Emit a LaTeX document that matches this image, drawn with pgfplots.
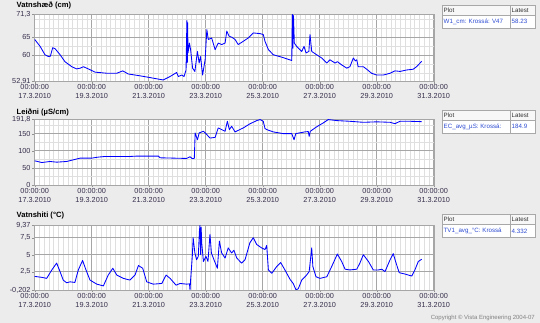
\documentclass[border=0pt]{standalone}
\usepackage{pgfplots}
\pgfplotsset{compat=1.18}
\usepackage{fontspec}
\setmainfont{Liberation Sans}
\definecolor{bgc}{HTML}{ECECEC}
\definecolor{vblue}{RGB}{35,85,235}
\definecolor{lbl}{RGB}{55,45,75}
\definecolor{legtxt}{RGB}{45,75,210}
\definecolor{bord}{HTML}{A8A8A8}
\pgfplotsset{
 vista/.style={
  scale only axis, width=399pt,
  anchor=south west,
  xmin=0, xmax=14, xtick={0,2,...,14},
  xticklabels={{00:00:00\\17.3.2010},{00:00:00\\19.3.2010},{00:00:00\\21.3.2010},{00:00:00\\23.3.2010},{00:00:00\\25.3.2010},{00:00:00\\27.3.2010},{00:00:00\\29.3.2010},{00:00:00\\31.3.2010}},
  minor x tick num=11,
  grid=both,
  major grid style={gray!70, line width=0.5pt},
  minor grid style={gray!25, line width=0.5pt},
  axis line style={gray!70},
  tick align=outside, major tick length=2.5pt, minor tick length=0pt,
  tick style={gray!85},
  xtick pos=left, ytick pos=left,
  axis background/.style={fill=white},
  tick label style={font=\fontsize{7.3}{9}\selectfont, text=lbl},
  xticklabel style={align=center, inner sep=1pt},
  yticklabel style={inner sep=1.5pt},
  no markers,
  every axis plot/.append style={vblue, line width=0.85pt, line join=round, mark=none},
 }
}
\begin{document}
\begin{tikzpicture}[x=1pt,y=1pt]
\fill[bgc] (0,0) rectangle (540,323);
\useasboundingbox (0,0) rectangle (540,323);

% ---------- Panel 1 ----------
\begin{axis}[vista, at={(34.7pt,241.8pt)}, height=66.8pt,
  ymin=52.91, ymax=71.3,
  ytick={52.91,60,65,71.3},
  yticklabels={{52,91},{60},{65},{71,3}},
  minor ytick={55,57.5,62.5,67.5,70}]
\addplot coordinates {
(0,64.4)(0.19,62.5)(0.36,60.2)(0.48,59.7)(0.55,59.8)(0.63,62.1)(0.71,61.9)(0.89,60.2)
(1.06,58.3)(1.30,56.9)(1.47,56.3)(1.60,56.5)(1.71,56.9)(1.88,56.3)(2.12,55.4)(2.53,55.1)
(2.88,55.1)(3.09,55.75)(3.28,54.9)(3.69,54.4)(4.05,53.9)(4.40,53.4)(4.51,53.25)(4.75,54.2)
(4.98,55.3)(5.04,54.2)(5.16,54.6)(5.24,54.2)(5.31,56.0)(5.34,69.6)(5.355,58)(5.365,69)(5.38,60.7)
(5.43,63.4)(5.47,61.6)(5.54,56.5)(5.62,55.6)(5.71,61.1)(5.77,57.9)(5.82,59.7)(5.89,54.6)
(5.98,58.8)(6.04,67.1)(6.09,64.4)(6.21,64.8)(6.33,61.6)(6.44,63.4)(6.56,63.0)(6.68,63.4)
(6.74,66.7)(6.82,65.3)(6.92,65.0)(7.03,64.4)(7.14,63.0)(7.32,63.9)(7.49,64.8)(7.67,66.2)
(7.91,66.0)(8.02,65.75)(8.08,63.9)(8.20,61.6)(8.37,60.2)(8.72,59.4)(9.02,58.6)(9.04,71.3)
(9.06,62)(9.08,71.0)(9.11,63.4)(9.19,62.5)(9.37,61.1)(9.45,62.5)(9.52,60.7)(9.62,61.1)
(9.66,65.75)(9.72,61.1)(9.89,60.2)(10.07,59.3)(10.25,57.9)(10.36,58.8)(10.54,57.9)(10.62,58.3)
(10.77,57.4)(10.95,56.5)(11.06,56.9)(11.18,59.3)(11.25,58.5)(11.30,58.8)(11.35,56.9)(11.53,56.9)
(11.65,56.2)(11.82,55.1)(12.0,54.6)(12.23,54.6)(12.47,55.1)(12.64,55.75)(12.82,55.6)(13.05,56.0)
(13.28,56.2)(13.40,56.9)(13.58,58.4)
};
\end{axis}

% ---------- Panel 2 ----------
\begin{axis}[vista, at={(34.7pt,138pt)}, height=65.7pt,
  ymin=0, ymax=191.8,
  ytick={0,50,100,150,191.8}, yticklabels={{0},{50},{100},{150},{191,8}},
  minor ytick={25,75,125,175}]
\addplot coordinates {
(0,70.6)(0.25,65.6)(0.54,68.6)(0.77,66.7)(1.12,68.6)(1.36,73.5)(1.59,78.4)(2.0,78.4)
(2.23,81.4)(2.47,83.3)(3.34,83.3)(3.58,84.3)(4.34,84.3)(4.40,79.4)(5.33,77.5)(5.45,82.4)
(5.52,77.5)(5.60,77.5)(5.63,152)(5.71,132)(5.77,152)(5.92,156.8)(6.04,147)(6.15,137)
(6.33,139)(6.44,166.7)(6.56,161.8)(6.68,156.8)(6.76,186)(6.83,161.8)(6.91,171.5)(7.03,155)
(7.32,166.7)(7.55,178.5)(7.79,188)(7.91,191)(8.02,186)(8.08,165)(8.14,161.8)(8.37,155)
(8.72,150)(9.02,150)(9.10,132)(9.16,150)(9.48,155)(9.60,156)(9.63,142)(9.67,156.8)
(9.89,169.7)(10.13,181.5)(10.30,191)(10.60,188)(11.06,186)(11.53,183)(12.0,184.4)(12.47,183)
(12.64,179)(12.82,186)(13.17,186)(13.58,184.9)
};
\end{axis}

% ---------- Panel 3 ----------
\begin{axis}[vista, at={(34.7pt,33pt)}, height=65pt,
  ymin=-0.202, ymax=9.37,
  ytick={-0.202,2.5,5,7.5,9.37}, yticklabels={{-0,202},{2,5},{5},{7,5},{9,37}}]
\addplot coordinates {
(0,1.8)(0.09,1.75)(0.25,1.66)(0.42,1.51)(0.60,2.75)(0.77,3.76)(0.89,2.5)(1.0,1.26)
(1.12,0.86)(1.24,1.0)(1.41,0.91)(1.53,2.75)(1.68,4.15)(1.80,2.75)(1.94,1.26)(2.18,0.66)
(2.41,0.40)(2.58,2.0)(2.74,3.0)(2.88,2.0)(3.11,1.51)(3.34,1.26)(3.52,2.0)(3.64,3.4)
(3.79,3.0)(3.93,1.0)(4.16,0.66)(4.46,0.76)(4.61,2.0)(4.75,1.51)(4.96,0.51)(5.10,0.76)
(5.33,0.66)(5.43,0.7)(5.45,-0.2)(5.47,1.26)(5.53,4.75)(5.56,7.5)(5.62,5.25)(5.68,4.25)
(5.74,4.75)(5.78,8.5)(5.80,9.37)(5.82,5.0)(5.84,9.0)(5.86,6.75)(5.92,4.0)(6.01,4.75)
(6.08,4.0)(6.15,8.0)(6.20,5.25)(6.29,4.25)(6.41,3.0)(6.48,7.0)(6.56,5.25)(6.68,4.5)
(6.79,6.0)(6.91,5.25)(6.99,5.65)(7.09,4.5)(7.26,3.76)(7.38,4.25)(7.55,6.75)(7.67,7.5)
(7.79,6.5)(7.96,6.0)(8.08,5.75)(8.14,6.35)(8.20,2.75)(8.32,2.26)(8.49,3.25)(8.63,3.85)
(8.78,2.75)(8.96,1.36)(9.07,0.76)(9.17,-0.2)(9.25,0.0)(9.37,1.26)(9.54,2.0)(9.63,2.5)
(9.72,6.0)(9.76,3.25)(9.87,1.75)(10.01,1.51)(10.25,1.75)(10.42,3.25)(10.62,5.1)(10.77,4.0)
(10.89,2.86)(11.06,2.75)(11.30,2.86)(11.41,3.76)(11.53,5.0)(11.71,4.0)(11.88,2.75)(12.06,2.75)
(12.18,2.86)(12.29,2.5)(12.47,4.25)(12.58,5.15)(12.68,3.76)(12.79,2.35)(12.99,2.15)(13.23,1.85)
(13.34,2.75)(13.46,4.0)(13.58,4.33)
};
\end{axis}

% ---------- Titles ----------
\node[anchor=west, inner sep=0pt, font=\fontsize{7.6}{9}\selectfont\bfseries] at (16.5,317) {Vatnshæð (cm)};
\node[anchor=west, inner sep=0pt, font=\fontsize{7.6}{9}\selectfont\bfseries] at (16.5,210) {Leiðni (µS/cm)};
\node[anchor=west, inner sep=0pt, font=\fontsize{7.6}{9}\selectfont\bfseries] at (16.5,107) {Vatnshiti (°C)};

% ---------- Legend boxes ----------
\foreach \top/\name/\val in {318/{W1\_cm: Krossá: V47}/58.23, 213/{EC\_avg\_µS: Krossá:}/184.9, 108.7/{TV1\_avg\_°C: Krossá}/4.332}{
  \fill[white] (442,\top-23.3) rectangle (535,\top);
  \fill[gray!6] (442,\top-10) rectangle (535,\top);
  \draw[bord, line width=0.5pt] (442,\top-23.3) rectangle (535,\top);
  \draw[bord, line width=0.5pt] (442,\top-10) -- (535,\top-10);
  \draw[bord, line width=0.5pt] (510,\top-23.3) -- (510,\top);
  \node[anchor=west, inner sep=0pt, font=\fontsize{6.2}{7}\selectfont, text=black!80] at (443.5,\top-5) {Plot};
  \node[anchor=west, inner sep=0pt, font=\fontsize{6.2}{7}\selectfont, text=black!80] at (511.5,\top-5) {Latest};
  \node[anchor=west, inner sep=0pt, font=\fontsize{6.2}{7}\selectfont, text=legtxt] at (443.5,\top-16.7) {\name};
  \node[anchor=west, inner sep=0pt, font=\fontsize{6.2}{7}\selectfont, text=legtxt] at (511.5,\top-16.7) {\val};
}

\node[anchor=east, inner sep=0pt, font=\fontsize{6}{7}\selectfont, text=gray] at (535,5) {Copyright © Vista Engineering 2004-07};
\end{tikzpicture}
\end{document}
